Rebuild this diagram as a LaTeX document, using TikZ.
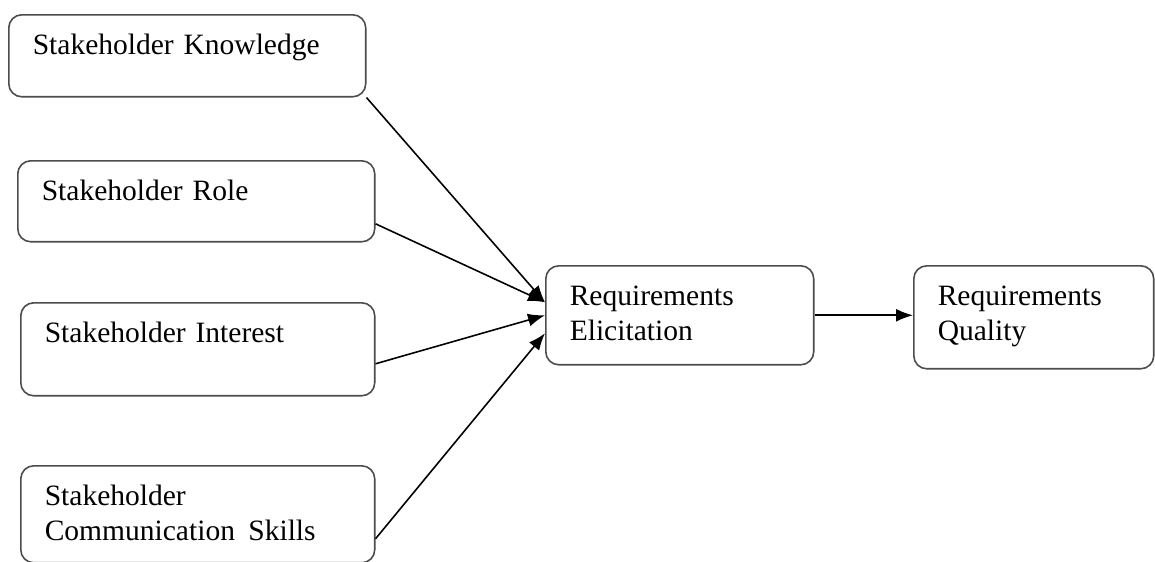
\documentclass[tikz,border=0pt]{standalone}
\usepackage{fontspec}
\setmainfont{Liberation Serif}
\usepackage{tikz}
\usetikzlibrary{calc}
\usetikzlibrary{arrows.meta}
\usetikzlibrary{positioning}

\begin{document}
\begin{tikzpicture}[
x=0.02cm, y=-0.02cm,
FactorBox/.style={draw=black!70,line width=0.9pt,rounded corners=0.26cm,anchor=north west,
  align=left,inner xsep=0.48cm,inner ysep=0pt,text height=0.8cm,
  font=\fontsize{16.8}{19.9}\selectfont},
Links/.style={draw=black,line width=0.9pt,-{Latex[length=0.34cm, width=0.26cm]}}
]
\useasboundingbox (0,0) rectangle (1155,561);

% the four stakeholder factors
\node[FactorBox,text width=6.18cm,text depth=0.84cm] (knw) at (8,14) {Stakeholder Knowledge};
\node[FactorBox,text width=6.18cm,text depth=0.82cm] (role) at (17,160) {Stakeholder Role};
\node[FactorBox,text width=6.12cm,text depth=1.06cm] (intr) at (20,302) {Stakeholder Interest};
\node[FactorBox,text width=6.12cm,text depth=1.14cm] (comm) at (20,465) {Stakeholder\\Communication\kern0.12em{} Skills};

% elicitation and quality
\node[FactorBox,text width=4.40cm,text depth=1.18cm] (elic) at (545,265) {Requirements\\Elicitation};
\node[FactorBox,text width=3.84cm,text depth=1.26cm] (qual) at (913,265) {Requirements\\Quality};

% where the arrows leave and meet
\coordinate (roleOut) at ($(role.east)+(0,22.5)$);
\coordinate (intrOut) at ($(intr.east)+(0,14.5)$);
\coordinate (commOut) at ($(comm.east)+(0,24.5)$);
\coordinate (elicInA) at ($(elic.west)+(0,-13)$);
\coordinate (elicInB) at ($(elic.west)+(0,0)$);
\coordinate (elicInC) at ($(elic.west)+(0,18)$);

\draw[Links] (knw.south east)--(elicInA);
\draw[Links] (roleOut)--(elicInA);
\draw[Links] (intrOut)--(elicInB);
\draw[Links] (commOut)--(elicInC);

\draw[Links] (elic.east)--(elic.east -| qual.west);

\end{tikzpicture}
\end{document}
